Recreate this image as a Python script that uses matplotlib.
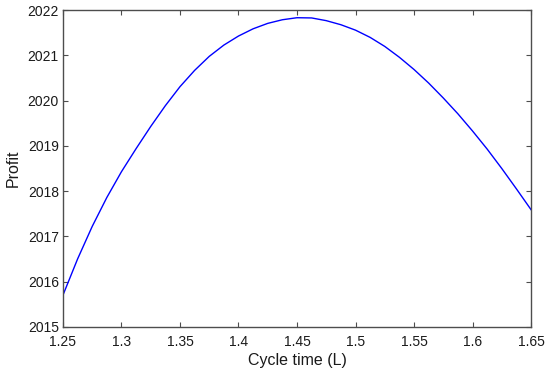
import matplotlib.pyplot as plt

# values
cycle_time = [1.25, 1.2625, 1.275, 1.2875, 1.30, 1.3125, 1.325, 1.3375, 1.35,
              1.3625, 1.375, 1.3875, 1.40, 1.4125, 1.425, 1.4375, 1.45,
              1.4625, 1.475, 1.4875, 1.50, 1.5125, 1.525, 1.5375, 1.55,
              1.5625, 1.575, 1.5875, 1.60, 1.6125, 1.625, 1.6375, 1.65]
profit = [2015.70, 2016.50, 2017.22, 2017.86, 2018.43, 2018.94, 2019.43, 2019.89, 2020.31,
          2020.67, 2020.98, 2021.23, 2021.43, 2021.59, 2021.71, 2021.79, 2021.835,
          2021.83, 2021.77, 2021.68, 2021.56, 2021.40, 2021.20, 2020.96, 2020.69,
          2020.39, 2020.06, 2019.71, 2019.33, 2018.93, 2018.50, 2018.05, 2017.59]

x_ticks = [1.25, 1.3, 1.35, 1.4, 1.45, 1.5, 1.55, 1.6, 1.65]
x_tick_labels = ['1.25', '1.3', '1.35', '1.4', '1.45', '1.5', '1.55', '1.6', '1.65']
y_ticks = [2015, 2016, 2017, 2018, 2019, 2020, 2021, 2022]

plt.rcParams['font.family'] = ['Liberation Sans', 'DejaVu Sans']

fig = plt.figure(figsize=(5.5, 3.73), dpi=100)
ax = fig.add_axes([0.1145, 0.124, 0.851, 0.8485])

ax.plot(cycle_time, profit, color='#0000ff', lw=1.0)

ax.set_xlim(1.25, 1.65)
ax.set_ylim(2015, 2022)
ax.set_xticks(x_ticks)
ax.set_xticklabels(x_tick_labels)
ax.set_yticks(y_ticks)

for s in ax.spines.values():
    s.set_color('#4d4d4d')
    s.set_linewidth(1.0)
ax.tick_params(direction='in', length=3.5, width=0.8, color='#4d4d4d',
               top=True, right=True, labelsize=10, labelcolor='#1a1a1a')
ax.tick_params(axis='x', pad=6)
ax.tick_params(axis='y', pad=3)

ax.set_xlabel('Cycle time (L)', fontsize=11.5, color='#1a1a1a', labelpad=3)
ax.set_ylabel('Profit', fontsize=11.5, color='#1a1a1a', labelpad=5)

fig.savefig('out.png', dpi=100)
